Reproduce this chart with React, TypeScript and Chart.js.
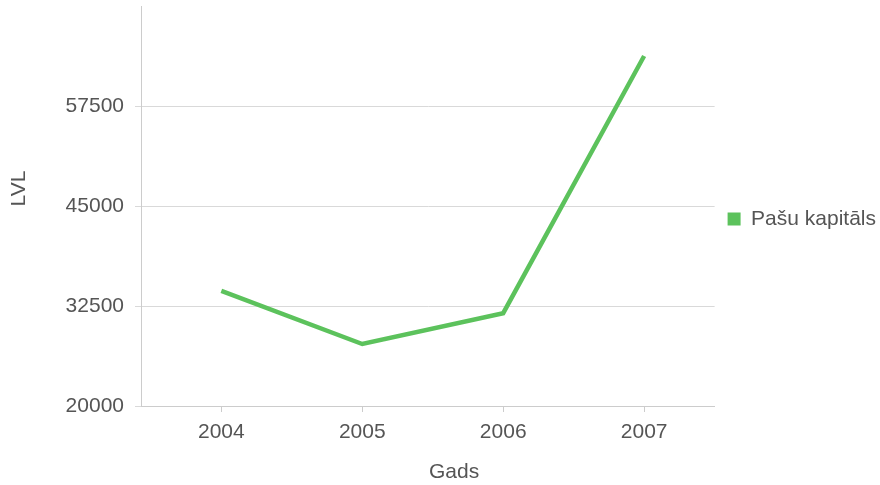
import React, { useEffect, useRef } from "react";
import { Chart, registerables } from "chart.js";

Chart.register(...registerables);

const years = [2004, 2005, 2006, 2007];
const equity = [34400, 27750, 31600, 63750];
const yTicks = [20000, 32500, 45000, 57500];
const seriesLabel = "Pašu kapitāls";
const xTitle = "Gads";
const yTitle = "LVL";

const GREEN = "#5cc25c";
const TEXT = "#555555";
const FONT = "'Liberation Sans', Arial, sans-serif";

export default function App() {
  const ref = useRef<HTMLCanvasElement | null>(null);

  useEffect(() => {
    if (!ref.current) return;
    const chart = new Chart(ref.current, {
      type: "line",
      data: {
        datasets: [
          {
            label: seriesLabel,
            data: years.map((x, i) => ({ x, y: equity[i] })),
            borderColor: GREEN,
            backgroundColor: GREEN,
            borderWidth: 4.5,
            pointRadius: 0,
            tension: 0,
            fill: false,
          },
        ],
      },
      options: {
        animation: false,
        responsive: true,
        maintainAspectRatio: false,
        layout: { padding: { top: 6, left: 0, bottom: 0, right: -6 } },
        scales: {
          x: {
            type: "linear",
            min: 2003.43,
            max: 2007.5,
            afterBuildTicks: (axis: any) => {
              axis.ticks = years.map((v) => ({ value: v }));
            },
            afterFit: (scale: any) => {
              scale.height = 79;
              scale.paddingLeft = 0;
              scale.paddingRight = 0;
            },
            grid: {
              drawOnChartArea: false,
              drawTicks: true,
              tickLength: 6,
              color: "#cccccc",
            },
            border: { color: "#cccccc" },
            ticks: {
              padding: 8,
              color: TEXT,
              font: { family: FONT, size: 21 },
              callback: (v: any) => String(v),
            },
            title: {
              display: true,
              text: "\u00a0".repeat(9) + xTitle,
              color: TEXT,
              font: { family: FONT, size: 21 },
              padding: { top: 0, bottom: 0 },
            },
          },
          y: {
            min: 20000,
            max: 70000,
            afterBuildTicks: (axis: any) => {
              axis.ticks = yTicks.map((v) => ({ value: v }));
            },
            afterFit: (scale: any) => {
              scale.width = 141;
              scale.paddingTop = 0;
              scale.paddingBottom = 0;
            },
            grid: {
              color: "#d9d9d9",
              drawTicks: true,
              tickLength: 6,
            },
            border: { color: "#cccccc" },
            ticks: {
              padding: 11,
              color: TEXT,
              font: { family: FONT, size: 21 },
              callback: (v: any) => String(v),
            },
            title: {
              display: true,
              text: "\u00a0".repeat(6) + yTitle,
              color: TEXT,
              font: { family: FONT, size: 21 },
              padding: { top: 7, bottom: 0 },
            },
          },
        },
        plugins: {
          tooltip: { enabled: false },
          legend: {
            position: "right",
            fullSize: false,
            title: {
              display: true,
              text: "",
              padding: 0,
              font: { family: FONT, size: 21, lineHeight: 26 / 21 },
            },
            labels: {
              boxWidth: 13,
              boxHeight: 13,
              padding: 13,
              color: TEXT,
              font: { family: FONT, size: 21 },
              generateLabels: (c: any) =>
                Chart.defaults.plugins.legend.labels
                  .generateLabels(c)
                  .map((l: any) => ({ ...l, lineWidth: 0, fillStyle: GREEN, strokeStyle: GREEN })),
            },
          },
        },
      },
    });
    return () => chart.destroy();
  }, []);

  return (
    <div style={{ position: "fixed", left: 0, top: 0, width: 880, height: 485, background: "#fff" }}>
      <canvas ref={ref} />
    </div>
  );
}
